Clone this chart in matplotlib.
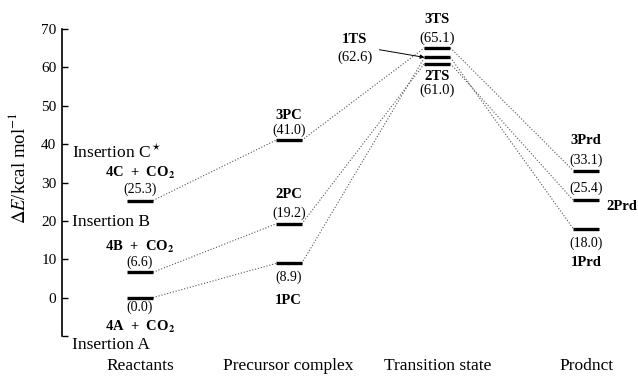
import matplotlib.pyplot as plt

plt.rcParams['font.family'] = ['Liberation Serif', 'DejaVu Serif']
plt.rcParams['mathtext.fontset'] = 'stix'

# stages along the reaction coordinate
stages = ['Reactants', 'Precursor complex', 'Transition state', 'Prodnct']

# energies (kcal/mol) for the three insertion pathways A, B, C
reactants = [0.0, 6.6, 25.3]
precursor = [8.9, 19.2, 41.0]
transition = [62.6, 61.0, 65.1]
product = [18.0, 25.4, 33.1]

reactant_names = ['4A  +  CO$_\\mathbf{2}$', '4B  +  CO$_\\mathbf{2}$', '4C  +  CO$_\\mathbf{2}$']
insertion_names = ['Insertion A', 'Insertion B', 'Insertion C$^\\star$']

fig = plt.figure(figsize=(6.38, 3.77), dpi=100)
ax = fig.add_axes([62 / 638, 41 / 377, 568 / 638, 307 / 377])
ax.set_xlim(-0.5245, 3.295)
ax.set_ylim(-10, 70)

hw = 0.087
levels = [reactants, precursor, transition, product]

# connecting dotted lines, right end of one level to left end of the next
for p in range(3):
    for s in range(3):
        ax.plot([s + hw, s + 1 - hw], [levels[s][p], levels[s + 1][p]],
                ls=':', lw=0.8, color='#555555')

# energy levels
for s in range(4):
    for p in range(3):
        ax.plot([s - hw, s + hw], [levels[s][p], levels[s][p]],
                color='black', lw=2.4, solid_capstyle='butt')


def label(x, y, text, dy, bold=False, size=10, ha='center', dx=0):
    ax.annotate(text, (x, y), xytext=(dx * 0.72, dy * 0.72),
                textcoords='offset points', ha=ha, va='center',
                fontsize=size, fontweight='bold' if bold else 'normal')


# reactants
label(0, reactants[2], '(%.1f)' % reactants[2], 11)
label(0, reactants[2], reactant_names[2], 28, bold=True, size=10.5)
label(0, reactants[1], '(%.1f)' % reactants[1], 10)
label(0, reactants[1], reactant_names[1], 25, bold=True, size=10.5)
label(0, reactants[0], '(%.1f)' % reactants[0], -10)
label(0, reactants[0], reactant_names[0], -29, bold=True, size=10.5)
label(0, reactants[2], insertion_names[2], 48, size=12.5, ha='left', dx=-68)
label(0, reactants[1], insertion_names[1], 50, size=12.5, ha='left', dx=-68)
label(0, reactants[0], insertion_names[0], -47, size=12.5, ha='left', dx=-68)

# precursor complexes
label(1, precursor[2], '(%.1f)' % precursor[2], 10)
label(1, precursor[2], '3PC', 25, bold=True, size=10.5)
label(1, precursor[1], '(%.1f)' % precursor[1], 11)
label(1, precursor[1], '2PC', 29, bold=True, size=10.5)
label(1, precursor[0], '(%.1f)' % precursor[0], -14)
label(1, precursor[0], '1PC', -37, bold=True, size=10.5)

# transition states
label(2, transition[2], '(%.1f)' % transition[2], 10, size=10.5)
label(2, transition[2], '3TS', 28, bold=True, size=10.5)
label(2, transition[1], '(%.1f)' % transition[1], -27, size=10.5)
label(2, transition[1], '2TS', -13, bold=True, size=10.5)
ax.annotate('', xy=(2 - hw, transition[0]), xytext=(1.61, transition[0] + 2.0),
            arrowprops=dict(arrowstyle='-|>', lw=0.7, color='black',
                            mutation_scale=6, shrinkA=0, shrinkB=0))
label(1.445, transition[0], '1TS', 18, bold=True, size=10.5)
label(1.445, transition[0], '(%.1f)' % transition[0], 0, size=10.5)

# products
label(3, product[2], '(%.1f)' % product[2], 10)
label(3, product[2], '3Prd', 30, bold=True, size=10.5)
label(3, product[1], '(%.1f)' % product[1], 12)
label(3, product[1], '2Prd', -6, bold=True, size=10.5, ha='left', dx=20)
label(3, product[0], '(%.1f)' % product[0], -15)
label(3, product[0], '1Prd', -34, bold=True, size=10.5)

ax.set_yticks(range(-10, 71, 10))
ax.set_yticklabels([''] + [str(v) for v in range(0, 71, 10)], fontsize=11)
ax.tick_params(axis='y', direction='in', length=4, width=1, pad=4)
ax.set_xticks(range(4))
ax.set_xticklabels(stages, fontsize=12.5)
ax.tick_params(axis='x', length=0, pad=16)

for side in ['top', 'right', 'bottom']:
    ax.spines[side].set_visible(False)
ax.spines['left'].set_linewidth(1.2)

ax.set_ylabel('$\\Delta E$/kcal mol$^{-1}$', fontsize=13.5)
ax.yaxis.set_label_coords(-0.058, 0.547)

fig.savefig('out.png', dpi=100)
